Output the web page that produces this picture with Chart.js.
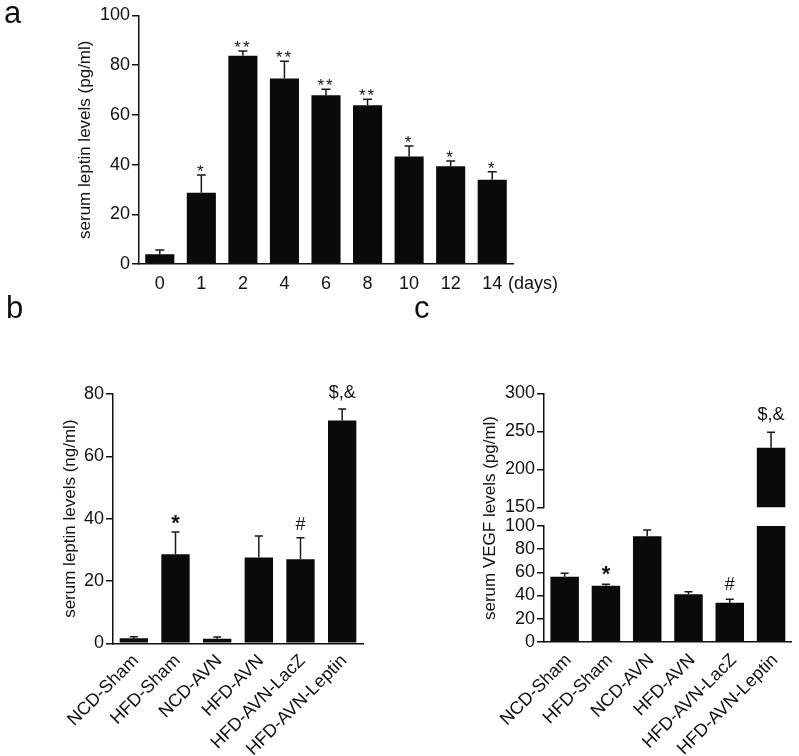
<!DOCTYPE html>
<html>
<head>
<meta charset="utf-8">
<script src="https://cdn.jsdelivr.net/npm/chart.js@4.4.1/dist/chart.umd.min.js"></script>
<style>
  html, body { margin: 0; padding: 0; background: #fff; }
  #wrap { position: relative; width: 799px; height: 756px; overflow: hidden; }
  #wrap canvas { position: absolute; left: 0; top: 0; }
</style>
</head>
<body>
<div id="wrap">
  <canvas id="chartA" width="799" height="756"></canvas>
  <canvas id="chartB" width="799" height="756"></canvas>
  <canvas id="chartCTop" width="799" height="756"></canvas>
  <canvas id="chartCBottom" width="799" height="756"></canvas>
</div>
<script>
// panel a: leptin over time
const dayLabels = ['0', '1', '2', '4', '6', '8', '10', '12', '14'];
const leptinByDay = [3.9, 28.7, 83.8, 74.6, 67.9, 63.9, 43.3, 39.3, 33.9];
const leptinByDaySem = [1.7, 7.1, 1.9, 7.0, 2.4, 2.4, 4.2, 2.1, 3.2];
const leptinByDaySig = ['', '*', '**', '**', '**', '**', '*', '*', '*'];

// panels b and c: groups
const groupLabels = ['NCD-Sham', 'HFD-Sham', 'NCD-AVN', 'HFD-AVN', 'HFD-AVN-LacZ', 'HFD-AVN-Leptin'];
const leptinByGroup = [1.6, 28.6, 1.5, 27.5, 27.0, 71.5];
const leptinByGroupSem = [0.5, 7.1, 0.5, 6.9, 6.9, 3.7];
const leptinByGroupSig = ['', '*', '', '', '#', '$,&'];

const vegfByGroup = [56.2, 48.4, 91.1, 41.0, 33.7, 228.4];
const vegfByGroupSem = [2.9, 1.2, 5.4, 2.2, 2.9, 20.3];
const vegfByGroupSig = ['', '*', '', '', '#', '$,&'];

const FONT = '"Liberation Sans", Arial, Helvetica, sans-serif';
const INK = '#111';
const BAR = '#0a0a0a';

Chart.defaults.font.family = FONT;
Chart.defaults.color = INK;
Chart.defaults.animation = false;

// error bars (upward only) + significance marks over each bar
const errorBars = {
  id: 'errorBars',
  afterDatasetsDraw(chart, args, opts) {
    if (!opts.sem) return;
    const {ctx} = chart;
    const ys = chart.scales.y;
    const meta = chart.getDatasetMeta(0);
    const vals = chart.data.datasets[0].data;
    ctx.save();
    ctx.strokeStyle = '#1a1a1a';
    ctx.lineWidth = 1.5;
    ctx.fillStyle = INK;
    meta.data.forEach((bar, i) => {
      const v = vals[i];
      const top = v + opts.sem[i];
      if (v > ys.max || top < ys.min) return;
      const x = bar.x;
      const y0 = ys.getPixelForValue(Math.max(v, ys.min));
      const y1 = ys.getPixelForValue(top);
      ctx.beginPath();
      ctx.moveTo(x, y0);
      ctx.lineTo(x, y1);
      ctx.moveTo(x - opts.cap, y1);
      ctx.lineTo(x + opts.cap, y1);
      ctx.stroke();
      const s = opts.sig ? opts.sig[i] : '';
      if (!s) return;
      const onlyStars = /^\*+$/.test(s);
      ctx.font = onlyStars ? opts.starFont : opts.font;
      if ('letterSpacing' in ctx) ctx.letterSpacing = onlyStars ? opts.starSpacing : '0px';
      ctx.textAlign = 'center';
      ctx.textBaseline = 'alphabetic';
      const m = ctx.measureText(s);
      ctx.fillText(s, x, y1 - opts.gap - m.actualBoundingBoxDescent);
    });
    ctx.restore();
  }
};

// free text: panel letters, unit after last tick, side titles
const extraText = {
  id: 'extraText',
  afterDraw(chart, args, opts) {
    if (!opts.items) return;
    const {ctx} = chart;
    ctx.save();
    ctx.fillStyle = INK;
    opts.items.forEach(it => {
      ctx.font = it.font;
      ctx.textAlign = it.align || 'left';
      ctx.textBaseline = it.baseline || 'alphabetic';
      let x = it.x, y = it.y;
      if (it.afterLastTick !== undefined) {
        const sx = chart.scales.x;
        const items = sx.getLabelItems(chart.chartArea);
        const last = items[items.length - 1];
        x = sx.right + it.afterLastTick;
        y = last.options.translation[1] + last.textOffset;
        ctx.textBaseline = last.options.textBaseline;
      }
      ctx.translate(x, y);
      if (it.rotate) ctx.rotate(it.rotate);
      ctx.fillText(it.text, 0, 0);
      ctx.setTransform(1, 0, 0, 1, 0, 0);
    });
    ctx.restore();
  }
};

Chart.register(errorBars, extraText);

function yAxis(min, max, step, width, title, titlePad) {
  return {
    min: min,
    max: max,
    ticks: {stepSize: step, autoSkip: false, padding: 2, color: INK, font: {size: 18}},
    grid: {display: true, drawOnChartArea: false, drawTicks: true, tickLength: 7, color: INK, lineWidth: 1.5},
    border: {display: true, color: INK, width: 1.5},
    title: title
      ? {display: true, text: title, color: INK, font: {size: 17}, padding: {top: titlePad, bottom: 0}}
      : {display: false},
    afterFit(s) { s.width = width; }
  };
}

function xAxis(show, rotation, height, pad, shift) {
  return {
    display: show,
    offset: true,
    grid: {display: false, drawTicks: false},
    border: {display: true, color: INK, width: 1.5},
    ticks: {autoSkip: false, minRotation: rotation, maxRotation: rotation, padding: pad,
      labelOffset: shift, color: INK, font: {size: 18}},
    afterFit(s) { s.height = height; }
  };
}

function barSet(values, pct) {
  return {
    data: values,
    backgroundColor: BAR,
    borderWidth: 0,
    barPercentage: pct,
    categoryPercentage: 1
  };
}

const baseOptions = {
  responsive: false,
  events: []
};

// panel a
new Chart(document.getElementById('chartA'), {
  type: 'bar',
  data: {labels: dayLabels, datasets: [barSet(leptinByDay, 0.7)]},
  options: Object.assign({}, baseOptions, {
    layout: {padding: {left: 0, top: 15.5, right: 286, bottom: 452}},
    scales: {
      x: xAxis(true, 0, 40, 9, 0),
      y: yAxis(0, 100, 20, 139, 'serum leptin levels (pg/ml)', 75)
    },
    plugins: {
      legend: {display: false},
      tooltip: {enabled: false},
      errorBars: {sem: leptinByDaySem, sig: leptinByDaySig, cap: 4.5, gap: 4,
        font: '17px ' + FONT, starFont: '17px ' + FONT, starSpacing: '2px'},
      extraText: {items: [
        {text: '(days)', font: '18px ' + FONT, afterLastTick: -5},
        {text: 'a', x: 4, y: 23, font: '31px ' + FONT},
        {text: 'b', x: 6, y: 318, font: '31px ' + FONT},
        {text: 'c', x: 414, y: 318, font: '31px ' + FONT}
      ]}
    }
  })
});

// panel b
new Chart(document.getElementById('chartB'), {
  type: 'bar',
  data: {labels: groupLabels, datasets: [barSet(leptinByGroup, 0.68)]},
  options: Object.assign({}, baseOptions, {
    layout: {padding: {left: 0, top: 394, right: 436, bottom: 0}},
    scales: {
      x: xAxis(true, 45, 112.7, 7, 2),
      y: yAxis(0, 80, 20, 113, 'serum leptin levels (ng/ml)', 60)
    },
    plugins: {
      legend: {display: false},
      tooltip: {enabled: false},
      errorBars: {sem: leptinByGroupSem, sig: leptinByGroupSig, cap: 4, gap: 8,
        font: '18px ' + FONT, starFont: 'bold 22px ' + FONT, starSpacing: '0px'}
    }
  })
});

// panel c, upper segment of the broken axis
new Chart(document.getElementById('chartCTop'), {
  type: 'bar',
  data: {labels: groupLabels, datasets: [barSet(vegfByGroup, 0.69)]},
  options: Object.assign({}, baseOptions, {
    layout: {padding: {left: 0, top: 393.3, right: 7.3, bottom: 248.7}},
    scales: {
      x: xAxis(false, 45, 0, 4, 0),
      y: yAxis(150, 300, 50, 544, null, 0)
    },
    plugins: {
      legend: {display: false},
      tooltip: {enabled: false},
      errorBars: {sem: vegfByGroupSem, sig: vegfByGroupSig, cap: 4, gap: 9,
        font: '18px ' + FONT, starFont: 'bold 22px ' + FONT, starSpacing: '0px'}
    }
  })
});

// panel c, lower segment
new Chart(document.getElementById('chartCBottom'), {
  type: 'bar',
  data: {labels: groupLabels, datasets: [barSet(vegfByGroup, 0.69)]},
  options: Object.assign({}, baseOptions, {
    layout: {padding: {left: 0, top: 526, right: 7.3, bottom: 0}},
    scales: {
      x: xAxis(true, 45, 114.3, 8, 4),
      y: yAxis(0, 100, 20, 544, null, 0)
    },
    plugins: {
      legend: {display: false},
      tooltip: {enabled: false},
      errorBars: {sem: vegfByGroupSem, sig: vegfByGroupSig, cap: 4, gap: 9,
        font: '18px ' + FONT, starFont: 'bold 22px ' + FONT, starSpacing: '0px'},
      extraText: {items: [
        {text: 'serum VEGF levels (pg/ml)', x: 490, y: 518, font: '17px ' + FONT,
          align: 'center', baseline: 'middle', rotate: -Math.PI / 2}
      ]}
    }
  })
});
</script>
</body>
</html>
